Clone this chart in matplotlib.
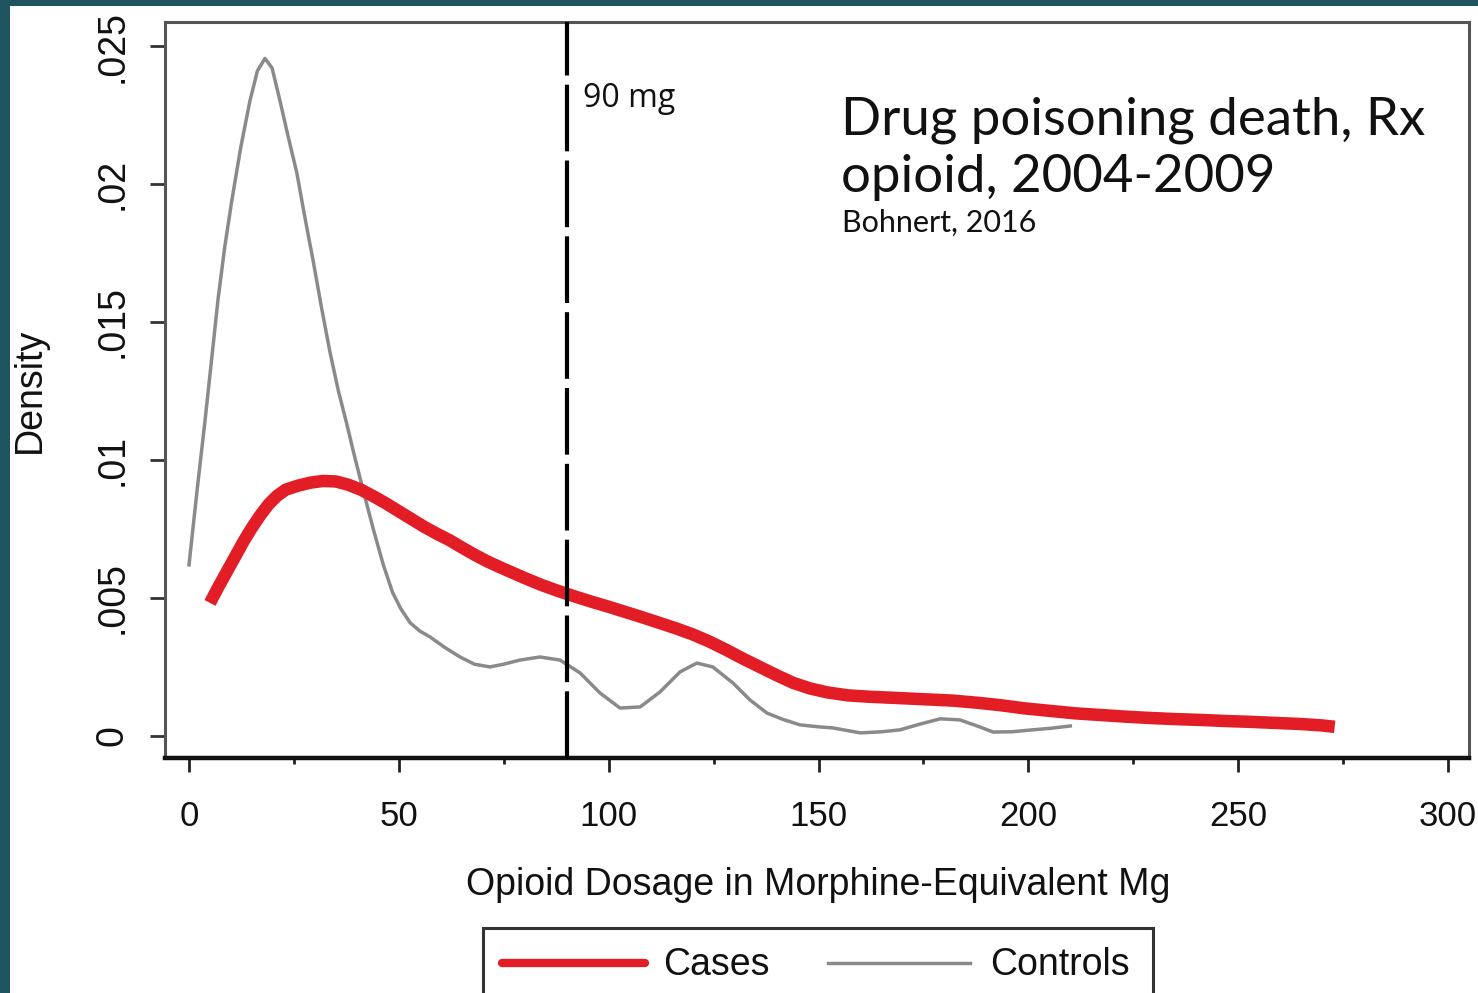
import matplotlib
matplotlib.use("Agg")
import matplotlib.pyplot as plt
from matplotlib.lines import Line2D
from matplotlib.patches import Rectangle
from matplotlib import font_manager

# ---------------- data ----------------
cases_x = [5, 7, 9, 11, 13, 15, 17, 19, 21, 23, 26, 29, 32, 35, 38, 41, 44, 47, 50, 53,
           56, 59, 62, 65, 68, 71, 74, 77, 80, 84, 88, 92, 96, 100, 104, 108, 112, 116,
           120, 124, 128, 132, 136, 140, 144, 148, 152, 157, 162, 168, 175, 182, 188,
           193, 199, 205, 211, 217, 223, 229, 235, 241, 247, 253, 259, 265, 270, 273]
cases_y = [4.82, 5.4, 5.95, 6.5, 7.05, 7.55, 8.0, 8.4, 8.7, 8.92, 9.07, 9.18, 9.24, 9.22,
           9.1, 8.92, 8.68, 8.42, 8.14, 7.86, 7.58, 7.33, 7.1, 6.83, 6.57, 6.33, 6.12,
           5.92, 5.72, 5.47, 5.25, 5.05, 4.86, 4.68, 4.49, 4.3, 4.1, 3.9, 3.68, 3.42,
           3.12, 2.8, 2.5, 2.2, 1.92, 1.72, 1.58, 1.47, 1.42, 1.38, 1.33, 1.28, 1.2,
           1.12, 1.0, 0.91, 0.82, 0.76, 0.7, 0.65, 0.61, 0.58, 0.54, 0.51, 0.47, 0.43,
           0.38, 0.33]

controls_x = [0, 2, 3.8, 5.5, 6.9, 8.5, 10.2, 12.3, 14.5, 16.3, 18.1, 19.8, 21.7, 23.5,
              25.7, 27.6, 29.6, 31.6, 33.6, 35.6, 37.6, 39.5, 41.5, 43.9, 46.3, 48.5, 50.5,
              52.7, 55, 57.4, 61, 64.6, 68, 71.7, 75, 78.9, 83.6, 88.4, 93.2, 97.9, 102.7,
              107.5, 112.2, 117, 121, 124.8, 129.6, 133.7, 137.7, 141.5, 145.6, 150,
              153.4, 160, 165, 169.4, 174, 179, 183.7, 188, 191.6, 196, 201, 205.5, 210]
controls_y = [6.2, 9.0, 11.4, 13.8, 15.8, 17.7, 19.4, 21.3, 23.0, 24.1, 24.55, 24.2, 23.0,
              21.8, 20.4, 18.8, 17.2, 15.5, 13.9, 12.5, 11.3, 10.1, 8.9, 7.5, 6.2, 5.2,
              4.6, 4.1, 3.8, 3.59, 3.2, 2.86, 2.6, 2.5, 2.6, 2.75, 2.86, 2.75, 2.28, 1.56,
              1.01, 1.05, 1.59, 2.32, 2.64, 2.5, 1.92, 1.3, 0.83, 0.6, 0.40, 0.33, 0.29,
              0.11, 0.15, 0.22, 0.42, 0.62, 0.58, 0.35, 0.14, 0.15, 0.22, 0.28, 0.36]

cases_y = [v / 1000 for v in cases_y]
controls_y = [v / 1000 for v in controls_y]

threshold = 90
threshold_label = "90 mg"
x_ticks = [0, 50, 100, 150, 200, 250, 300]
x_minor = [25, 75, 125, 175, 225, 275]
y_ticks = [0, 0.005, 0.01, 0.015, 0.02, 0.025]
y_ticklabels = ["0", ".005", ".01", ".015", ".02", ".025"]
x_label = "Opioid Dosage in Morphine-Equivalent Mg"
y_label = "Density"
series_names = ["Cases", "Controls"]
title_line1 = "Drug poisoning death, Rx"
title_line2 = "opioid, 2004-2009"
source = "Bohnert, 2016"

# ---------------- fonts ----------------
available = {f.name for f in font_manager.fontManager.ttflist}
if "Liberation Sans Narrow" in available:
    RFONT = "Liberation Sans Narrow"
    k = 1.2
else:
    RFONT = "Liberation Sans"
    k = 1.0

W, H = 1478, 993
fig = plt.figure(figsize=(W / 100, H / 100), dpi=100)
fig.patch.set_facecolor("#1e5360")


def fx(p):
    return p / W


def fy(p):
    return 1 - p / H


# white slide image area (behind everything)
fig.patches.append(Rectangle((fx(10), 0), 1 - fx(10), fy(6), transform=fig.transFigure,
                             facecolor="white", edgecolor="none", zorder=-10))

ax_l, ax_r, ax_t, ax_b = 165, 1469, 22, 758
ax = fig.add_axes([fx(ax_l), fy(ax_b), fx(ax_r - ax_l), (ax_b - ax_t) / H])
ax.set_zorder(1)
ax.set_facecolor("white")

ax.plot(controls_x, controls_y, color="#8a8a8a", lw=2.5, solid_joinstyle="round", zorder=3)
ax.plot(cases_x, cases_y, color="#e21d26", lw=9, solid_capstyle="butt",
        solid_joinstyle="round", zorder=4)
ax.axvline(threshold, color="black", lw=3, dashes=(16, 2.2), zorder=5)

ax.set_xlim(-5.72, 305.0)
ax.set_ylim(-0.0008, 0.02587)

ax.set_xticks(x_ticks)
ax.set_xticklabels([str(t) for t in x_ticks])
ax.set_xticks(x_minor, minor=True)
ax.set_yticks(y_ticks)
ax.set_yticklabels(y_ticklabels, rotation=90, va="center")

ax.tick_params(axis="x", which="major", length=10, width=2, color="#222222", pad=20,
               labelsize=25 * k, direction="out")
ax.tick_params(axis="x", which="minor", length=4, width=2, color="#222222")
ax.tick_params(axis="y", which="major", length=11, width=2, color="#333333", pad=14,
               labelsize=27 * k, direction="out")
for lab in ax.get_xticklabels() + ax.get_yticklabels():
    lab.set_fontfamily(RFONT)
    lab.set_color("#111111")

for side in ["top", "left", "right"]:
    ax.spines[side].set_color("#555555")
    ax.spines[side].set_linewidth(2.2)
ax.spines["bottom"].set_color("#111111")
ax.spines["bottom"].set_linewidth(3.2)

# axis labels
fig.text(fx(818), fy(885), x_label, ha="center", va="center", fontsize=27 * k,
         family=RFONT, color="#111111")
fig.text(fx(30), fy(390), y_label, ha="center", va="center", rotation=90,
         fontsize=27 * k, family=RFONT, color="#111111")

# annotations
ax.text(threshold + 4, 0.0231, threshold_label, ha="left", va="center", fontsize=23,
        family="Open Sans", color="#111111", zorder=6)
fig.text(fx(841), fy(135), title_line1, ha="left", va="baseline", fontsize=38,
         family="Lato", color="#111111", zorder=5)
fig.text(fx(841), fy(192), title_line2, ha="left", va="baseline", fontsize=38,
         family="Lato", color="#111111", zorder=5)
fig.text(fx(842), fy(232), source, ha="left", va="baseline", fontsize=22,
         family="Lato", color="#111111", zorder=5)

# legend (drawn below the axes, clipped by the bottom edge)
fig.patches.append(Rectangle((fx(483), fy(1010)), fx(1153 - 483), (1010 - 928) / H,
                             transform=fig.transFigure, facecolor="white",
                             edgecolor="#333333", lw=2.2, zorder=2))
fig.lines.append(Line2D([fx(502), fx(645)], [fy(963), fy(963)], transform=fig.transFigure,
                        color="#e21d26", lw=6, solid_capstyle="round", zorder=3))
fig.lines.append(Line2D([fx(828), fx(970)], [fy(963), fy(963)], transform=fig.transFigure,
                        color="#8a8a8a", lw=2.5, zorder=3))
fig.text(fx(663), fy(965), series_names[0], ha="left", va="center", fontsize=27 * k,
         family=RFONT, color="#111111")
fig.text(fx(990), fy(965), series_names[1], ha="left", va="center", fontsize=27 * k,
         family=RFONT, color="#111111")

fig.savefig("out.png", dpi=100, facecolor=fig.get_facecolor())
